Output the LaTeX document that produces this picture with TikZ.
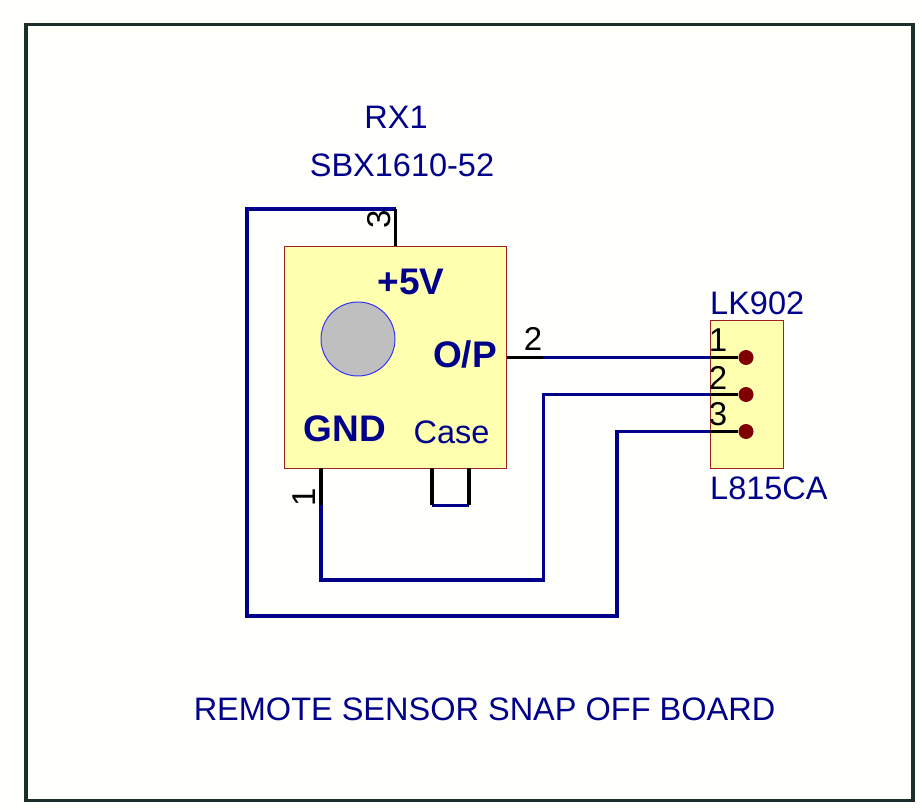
\documentclass[tikz,border=0pt]{standalone}
\usepackage{fontspec}
\setmainfont{Liberation Sans}
\definecolor{wire blue}{HTML}{00008B}
\definecolor{part yellow}{HTML}{FFFFB0}
\definecolor{part red}{HTML}{A02020}
\definecolor{frame dark}{HTML}{1C2E2A}
\tikzstyle{part box} = [rectangle,draw=part red,fill=part yellow,line width=1,inner sep=0,outer sep=0]
\tikzstyle{part text} = [text=wire blue,inner sep=0,font=\fontsize{32.5}{36}\selectfont]
\tikzstyle{bold text} = [part text,font=\fontsize{37}{40}\selectfont\bfseries]
\tikzstyle{pin text} = [text=black,inner sep=0,font=\fontsize{33}{36}\selectfont]
\tikzstyle{wire} = [draw=wire blue,line width=3.4,line join=miter]
\tikzstyle{pin} = [draw=black,line width=3.4]
\tikzstyle{pad} = [circle,fill=red!50!black,inner sep=0,minimum size=15]
\begin{document}
\begin{tikzpicture}[x=1pt,y=-1pt]

    \useasboundingbox (0,0) rectangle (922,810);
    \fill[white!99!yellow] (0,0) rectangle (922,810);

    % Sheet frame
    \node(frame)[rectangle,draw=frame dark,line width=3.6,inner sep=0,minimum width=887,minimum height=776] at (469.5,412.5) {};

    % Sensor body
    \node(rx1)[part box,minimum width=222,minimum height=222] at (395.5,357.5) {};
    \node(lens)[circle,draw=blue!80!white,fill=black!25,line width=1,inner sep=0,minimum size=74] at (358,339) {};
    \node(plus5)[bold text] at (411,282) {+5V};
    \node(op)[bold text] at (465,354) {O/P};
    \node(gnd)[bold text] at (345,429) {GND};
    \node(case)[part text] at (451.5,432) {Case};
    \node(rxname)[part text] at (396,117) {RX1};
    \node(rxtype)[part text] at (402,165) {SBX1610-52};

    % Link header
    \node(lk902)[part box,minimum width=73,minimum height=148] at (746.5,394.5) {};
    \node(lkname)[part text,anchor=west] at (710,303) {LK902};
    \node(lktype)[part text,anchor=west] at (710,488) {L815CA};
    \node(pad1)[pad] at (746,357.5) {};
    \node(pad2)[pad] at (746,394.5) {};
    \node(pad3)[pad] at (746,431.5) {};

    % Wire corners and pin ends
    \coordinate(p3top) at (395.5,209);
    \coordinate(leftup) at (247,209);
    \coordinate(leftdown) at (247,616);
    \coordinate(rightdown) at (617,616);
    \coordinate(rightup) at (617,431.5);
    \coordinate(in1) at (710,357.5);
    \coordinate(in2) at (710,394.5);
    \coordinate(in3) at (710,431.5);
    \coordinate(p2end) at (543,357.5);
    \coordinate(midup) at (543.5,394.5);
    \coordinate(middown) at (543.5,580);
    \coordinate(p1top) at (321,468.5);
    \coordinate(p1end) at (321,505);
    \coordinate(p1down) at (321,580);
    \coordinate(c1top) at (432,468.5);
    \coordinate(c1end) at (432,505.5);
    \coordinate(c2top) at (469,468.5);
    \coordinate(c2end) at (469,505.5);

    % Blue wires
    \draw[wire] (p3top) -- (leftup) -- (leftdown) -- (rightdown) -- (rightup) -- (in3);
    \draw[wire] (p2end) -- (in1);
    \draw[wire] (p1end) -- (p1down) -- (middown) -- (midup) -- (in2);
    \draw[wire] (c1end) -- (c2end);

    % Black pins
    \draw[pin] (rx1.north) -- (p3top);
    \draw[pin] (rx1.east |- p2end) -- (p2end);
    \draw[pin] (p1top) -- (p1end);
    \draw[pin] (c1top) -- (c1end);
    \draw[pin] (c2top) -- (c2end);
    \draw[pin] (in1) -- (pad1);
    \draw[pin] (in2) -- (pad2);
    \draw[pin] (in3) -- (pad3);

    % Pin numbers
    \node(n3)[pin text,rotate=90] at (379.5,219) {3};
    \node(n2)[pin text] at (533,339) {2};
    \node(n1)[pin text,rotate=90] at (304.5,497) {1};
    \node(h1)[pin text] at (718,340) {1};
    \node(h2)[pin text] at (718,377.5) {2};
    \node(h3)[pin text] at (718,414.5) {3};

    % Sheet title
    \node(title)[part text] at (484.5,709) {REMOTE SENSOR SNAP OFF BOARD};

\end{tikzpicture}
\end{document}
